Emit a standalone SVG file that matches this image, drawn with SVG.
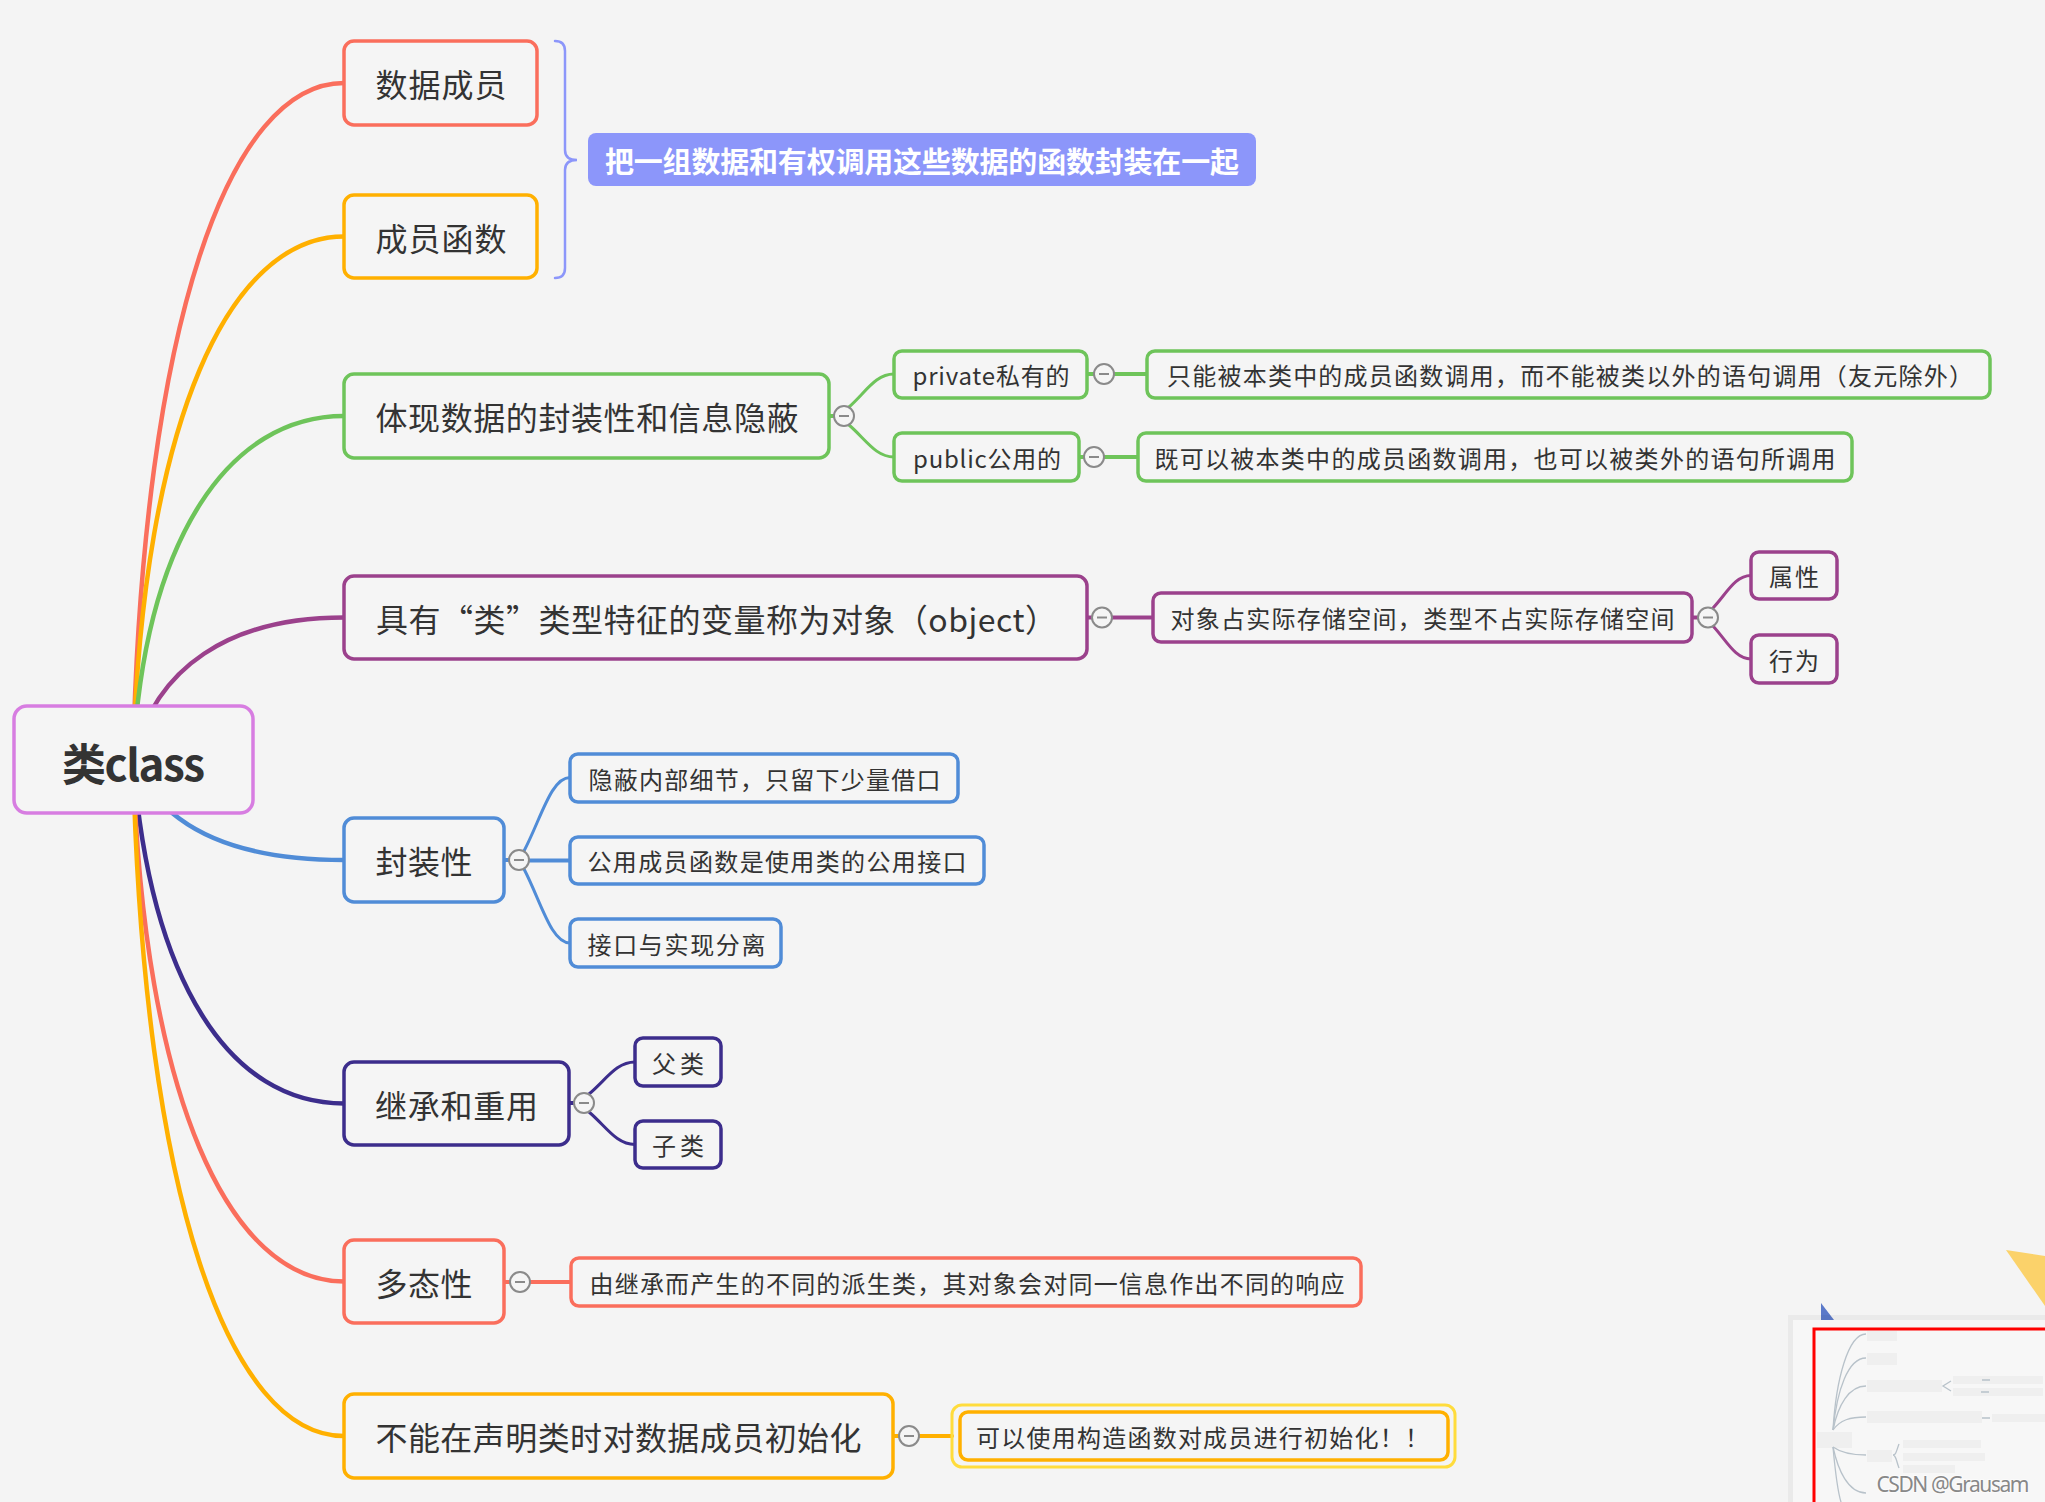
<svg xmlns="http://www.w3.org/2000/svg" width="2045" height="1502" viewBox="0 0 2045 1502">
<style>
text{font-family:"Noto Sans CJK SC","Noto Sans",sans-serif;fill:#333;text-anchor:middle;dominant-baseline:central}
.t1{font-size:32px}
.t2{font-size:24px}
.box{fill:#f5f5f5;stroke-width:3.5}
.c{fill:none;stroke-linecap:round}
.l1{stroke-width:4.5}
.l2{stroke-width:3}
.h{stroke-width:4}
.tog circle{fill:#f5f5f5;stroke:#8a8a8a;stroke-width:2}
.tog path{stroke:#8a8a8a;stroke-width:2}
.red{stroke:#fa6e5c}.org{stroke:#ffb000}.grn{stroke:#6ec45a}.pur{stroke:#9b418c}.blu{stroke:#508cd7}.ind{stroke:#3c2d8c}
</style>
<rect width="2045" height="1502" fill="#f4f4f4"/>

<g id="connectors">
  <path class="c l1 red" d="M133,759 C143,320 230,83 344,83"/>
  <path class="c l1 org" d="M133,759 C143,419 230,236.5 344,236.5"/>
  <path class="c l1 grn" d="M133,759 C145,536 230,416 344,416"/>
  <path class="c l1 pur" d="M133,759 C155,667 230,617.5 344,617.5"/>
  <path class="c l1 blu" d="M133,759 C160,825 230,860 344,860"/>
  <path class="c l1 ind" d="M133,759 C150,983 230,1103.5 344,1103.5"/>
  <path class="c l1 red" d="M133,759 C143,1099 230,1281.5 344,1281.5"/>
  <path class="c l1 org" d="M133,759 C143,1199 230,1436 344,1436"/>

  <path d="M555,41 Q565,41 565,51 L565,150 Q565,160 577,160 Q565,160 565,170 L565,268 Q565,278 555,278" fill="none" stroke="#8c96fa" stroke-width="2.5" stroke-linecap="round"/>

  <path class="c h grn" d="M829,416 H834"/>
  <path class="c l2 grn" d="M849,407 C865.5,392.5 875.5,374 894,374"/>
  <path class="c l2 grn" d="M849,425 C865.5,439 875.5,457 894,457"/>
  <path class="c h grn" d="M1087,374 H1094 M1114,374 H1147"/>
  <path class="c h grn" d="M1079,457 H1084 M1104,457 H1138"/>

  <path class="c h pur" d="M1087,617.5 H1092 M1112,617.5 H1153 M1692,617.5 H1698"/>
  <path class="c l2 pur" d="M1713,608 C1726.5,593.7 1735,575.5 1751,575.5"/>
  <path class="c l2 pur" d="M1713,626 C1726.5,640.5 1735,659 1751,659"/>

  <path class="c h blu" d="M504,860 H509 M529,860.5 H570"/>
  <path class="c l2 blu" d="M524,851 C541,818.7 551,777.5 570,777.5"/>
  <path class="c l2 blu" d="M524,869 C541,901.6 551,943 570,943"/>

  <path class="c h ind" d="M569,1103 H574"/>
  <path class="c l2 ind" d="M589,1094 C606,1080 616,1062 635,1062"/>
  <path class="c l2 ind" d="M589,1112 C606,1126.3 616,1144.5 635,1144.5"/>

  <path class="c h red" d="M504,1282 H510 M530,1282 H571"/>
  <path class="c h org" d="M893,1436 H899 M919,1436 H952"/>
</g>

<g id="root">
  <rect x="14" y="706" width="239" height="107" rx="13" fill="#f5f5f5" stroke="#d77de1" stroke-width="3.5"/>
  <text x="133.5" y="762" font-size="44" font-weight="bold" textLength="143">类class</text>
</g>

<g id="n-shujuchengyuan">
  <rect class="box red" x="344" y="41" width="193" height="84" rx="10"/>
  <text class="t1" x="441" y="83" textLength="131">数据成员</text>
</g>
<g id="n-chengyuanhanshu">
  <rect class="box org" x="344" y="195" width="193" height="83" rx="10"/>
  <text class="t1" x="441" y="237" textLength="131">成员函数</text>
</g>
<g id="n-summary">
  <rect x="588" y="133" width="668" height="53" rx="8" fill="#8c96fa"/>
  <text x="922" y="160" font-size="29" font-weight="bold" style="fill:#fff" textLength="634">把一组数据和有权调用这些数据的函数封装在一起</text>
</g>

<g id="n-tixian">
  <rect class="box grn" x="344" y="374" width="485" height="84" rx="10"/>
  <text class="t1" x="587" y="416" textLength="423">体现数据的封装性和信息隐蔽</text>
  <g class="tog"><circle cx="844" cy="416" r="10"/><path d="M839,416 H849"/></g>
</g>
<g id="n-private">
  <rect class="box grn" x="894" y="351" width="193" height="47" rx="8"/>
  <text class="t2" x="991" y="374" textLength="157">private私有的</text>
  <g class="tog"><circle cx="1104" cy="374" r="10"/><path d="M1099,374 H1109"/></g>
</g>
<g id="n-private-desc">
  <rect class="box grn" x="1147" y="351" width="843" height="47" rx="8"/>
  <text class="t2" x="1570" y="374.5" textLength="806">只能被本类中的成员函数调用，而不能被类以外的语句调用（友元除外）</text>
</g>
<g id="n-public">
  <rect class="box grn" x="894" y="433" width="185" height="48" rx="8"/>
  <text class="t2" x="987" y="457" textLength="148">public公用的</text>
  <g class="tog"><circle cx="1094" cy="457" r="10"/><path d="M1089,457 H1099"/></g>
</g>
<g id="n-public-desc">
  <rect class="box grn" x="1138" y="433" width="714" height="48" rx="8"/>
  <text class="t2" x="1495" y="457" textLength="681">既可以被本类中的成员函数调用，也可以被类外的语句所调用</text>
</g>

<g id="n-object">
  <rect class="box pur" x="344" y="576" width="743" height="83" rx="10"/>
  <text class="t1" x="716.5" y="618" textLength="681">具有“类”类型特征的变量称为对象（object）</text>
  <g class="tog"><circle cx="1102" cy="617.5" r="10"/><path d="M1097,617.5 H1107"/></g>
</g>
<g id="n-object-desc">
  <rect class="box pur" x="1153" y="593" width="539" height="49" rx="8"/>
  <text class="t2" x="1422.5" y="617.5" textLength="504">对象占实际存储空间，类型不占实际存储空间</text>
  <g class="tog"><circle cx="1708" cy="617.5" r="10"/><path d="M1703,617.5 H1713"/></g>
</g>
<g id="n-shuxing">
  <rect class="box pur" x="1751" y="552" width="86" height="47" rx="8"/>
  <text class="t2" x="1794" y="575.5" textLength="50">属性</text>
</g>
<g id="n-xingwei">
  <rect class="box pur" x="1751" y="635" width="86" height="48" rx="8"/>
  <text class="t2" x="1794" y="659" textLength="50">行为</text>
</g>

<g id="n-fengzhuang">
  <rect class="box blu" x="344" y="818" width="160" height="84" rx="10"/>
  <text class="t1" x="424" y="860" textLength="97">封装性</text>
  <g class="tog"><circle cx="519" cy="860" r="10"/><path d="M514,860 H524"/></g>
</g>
<g id="n-yinbi">
  <rect class="box blu" x="570" y="754" width="388" height="48" rx="8"/>
  <text class="t2" x="764.5" y="778" textLength="352">隐蔽内部细节，只留下少量借口</text>
</g>
<g id="n-gongyong">
  <rect class="box blu" x="570" y="837" width="414" height="47" rx="8"/>
  <text class="t2" x="777" y="860.5" textLength="379">公用成员函数是使用类的公用接口</text>
</g>
<g id="n-jiekou">
  <rect class="box blu" x="570" y="919" width="211" height="48" rx="8"/>
  <text class="t2" x="676.5" y="943" textLength="178">接口与实现分离</text>
</g>

<g id="n-jicheng">
  <rect class="box ind" x="344" y="1062" width="225" height="83" rx="10"/>
  <text class="t1" x="456.5" y="1104" textLength="163">继承和重用</text>
  <g class="tog"><circle cx="584" cy="1103" r="10"/><path d="M579,1103 H589"/></g>
</g>
<g id="n-fulei">
  <rect class="box ind" x="635" y="1038" width="86" height="48" rx="8"/>
  <text class="t2" x="678" y="1062" textLength="52">父类</text>
</g>
<g id="n-zilei">
  <rect class="box ind" x="635" y="1121" width="86" height="47" rx="8"/>
  <text class="t2" x="678" y="1144.5" textLength="52">子类</text>
</g>

<g id="n-duotai">
  <rect class="box red" x="344" y="1240" width="160" height="83" rx="10"/>
  <text class="t1" x="424" y="1282" textLength="97">多态性</text>
  <g class="tog"><circle cx="520" cy="1282" r="10"/><path d="M515,1282 H525"/></g>
</g>
<g id="n-duotai-desc">
  <rect class="box red" x="571" y="1258" width="790" height="48" rx="8"/>
  <text class="t2" x="967" y="1282" textLength="755">由继承而产生的不同的派生类，其对象会对同一信息作出不同的响应</text>
</g>

<g id="n-buneng">
  <rect class="box org" x="344" y="1394" width="549" height="84" rx="10"/>
  <text class="t1" x="618.5" y="1436" textLength="486">不能在声明类时对数据成员初始化</text>
  <g class="tog"><circle cx="909" cy="1436" r="10"/><path d="M904,1436 H914"/></g>
</g>
<g id="n-buneng-desc">
  <rect x="952" y="1405" width="503" height="62" rx="10" fill="none" stroke="#ffdc3c" stroke-width="3"/>
  <rect class="box org" x="960" y="1412" width="488" height="48" rx="8"/>
  <text class="t2" x="1202.5" y="1436" textLength="453">可以使用构造函数对成员进行初始化！！</text>
</g>

<g id="corner">
  <polygon points="2006,1250 2045,1256 2045,1306" fill="#fbd26a"/>
  <polygon points="1821,1303 1834,1320 1821,1320" fill="#5b79c9"/>
  <rect x="1788" y="1315" width="262" height="192" fill="#000" opacity="0.04"/>
  <rect x="1793" y="1320" width="260" height="190" fill="#f7f7f7"/>
  <rect x="1814" y="1329" width="240" height="180" fill="none" stroke="#ff0000" stroke-width="3"/>
  <g fill="#efefef">
    <rect x="1867" y="1331" width="30" height="10"/>
    <rect x="1867" y="1353" width="30" height="12"/>
    <rect x="1867" y="1380" width="75" height="12"/>
    <rect x="1953" y="1376" width="90" height="8"/>
    <rect x="1953" y="1388" width="90" height="8"/>
    <rect x="1867" y="1411" width="115" height="12"/>
    <rect x="1992" y="1414" width="55" height="8"/>
    <rect x="1817" y="1432" width="35" height="16"/>
    <rect x="1867" y="1450" width="25" height="12"/>
    <rect x="1903" y="1440" width="78" height="8"/>
    <rect x="1903" y="1453" width="82" height="8"/>
    <rect x="1903" y="1465" width="52" height="8"/>
  </g>
  <g fill="none" stroke="#b8c2ca" stroke-width="1.3">
    <path d="M1833,1430 C1836,1380 1848,1334 1866,1334"/>
    <path d="M1833,1430 C1837,1390 1848,1358 1866,1358"/>
    <path d="M1833,1430 C1838,1405 1849,1386 1866,1386"/>
    <path d="M1833,1430 C1840,1420 1850,1417 1866,1417"/>
    <path d="M1833,1447 C1840,1452 1850,1455 1866,1455"/>
    <path d="M1833,1447 C1838,1470 1848,1493 1866,1493"/>
    <path d="M1833,1447 C1836,1480 1840,1500 1842,1505"/>
    <path d="M1951,1381 L1943,1386 L1951,1391"/>
    <path d="M1899,1444 C1896,1452 1896,1455 1893,1455 C1896,1455 1896,1460 1899,1468"/>
    <path d="M1982,1380 H1990 M1981,1392 H1989 M1982,1418 H1990"/>
  </g>
  <text x="1953" y="1484" font-size="21" style="font-family:'Noto Sans','Open Sans',sans-serif;fill:#888;stroke:#ffffff;stroke-width:2;stroke-opacity:0.6;paint-order:stroke" textLength="153">CSDN @Grausam</text>
</g>
</svg>
